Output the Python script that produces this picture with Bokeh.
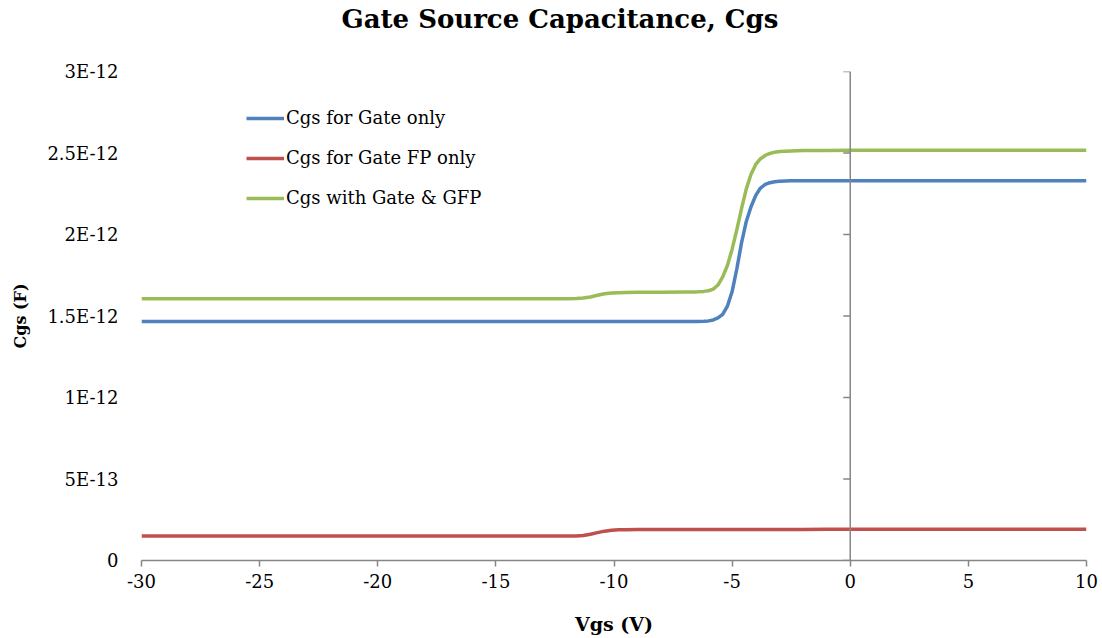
from bokeh.plotting import figure
from bokeh.models import FixedTicker, CustomJSTickFormatter, Span, Legend, LegendItem, ColumnDataSource, Title
from bokeh.embed import file_html
from bokeh.resources import INLINE
import math

# ---------------- data (capacitance in pF, converted to F below) ----------------
vgs = [-30, -20, -12, -11.6, -11.3, -11.0, -10.7, -10.4, -10.1, -9.8, -9.5, -9, -8, -7, -6.5, -6.2,
       -6.0, -5.8, -5.6, -5.4, -5.2, -5.0, -4.8, -4.6, -4.4, -4.2, -4.0, -3.8, -3.6, -3.4, -3.2, -3.0,
       -2.5, -2, -1, 0, 5, 10]
cgs_gate_pf = [1.467, 1.467, 1.467, 1.467, 1.467, 1.467, 1.467, 1.467, 1.467, 1.467, 1.467, 1.467, 1.467, 1.467, 1.467, 1.468,
               1.470, 1.476, 1.488, 1.510, 1.560, 1.650, 1.790, 1.950, 2.080, 2.170, 2.240, 2.285, 2.307, 2.318, 2.324, 2.327,
               2.329, 2.330, 2.330, 2.330, 2.330, 2.330]
cgs_gfp_pf = [0.150, 0.150, 0.150, 0.151, 0.154, 0.161, 0.171, 0.180, 0.185, 0.188, 0.189, 0.190, 0.190, 0.190, 0.190, 0.190,
              0.190, 0.190, 0.190, 0.190, 0.190, 0.190, 0.190, 0.190, 0.190, 0.190, 0.190, 0.190, 0.190, 0.190, 0.190, 0.190,
              0.190, 0.190, 0.191, 0.191, 0.191, 0.191]
cgs_both_pf = [1.606, 1.606, 1.606, 1.607, 1.610, 1.617, 1.627, 1.636, 1.641, 1.643, 1.644, 1.645, 1.646, 1.647, 1.648, 1.651,
               1.655, 1.665, 1.690, 1.740, 1.810, 1.910, 2.030, 2.160, 2.280, 2.370, 2.430, 2.465, 2.485, 2.497, 2.505, 2.509,
               2.513, 2.515, 2.516, 2.517, 2.517, 2.517]

series_names = ["Cgs for Gate only", "Cgs for Gate FP only", "Cgs with Gate & GFP"]
series_colors = ["#4F81BD", "#C0504D", "#9BBB59"]

x_tick_values = [-30, -25, -20, -15, -10, -5, 0, 5, 10]
x_tick_labels = ["-30", "-25", "-20", "-15", "-10", "-5", "0", "5", "10"]
y_tick_values = [0, 5e-13, 1e-12, 1.5e-12, 2e-12, 2.5e-12, 3e-12]
y_tick_labels = ["0", "5E-13", "1E-12", "1.5E-12", "2E-12", "2.5E-12", "3E-12"]

title_text = "Gate Source Capacitance, Cgs"
x_label = "Vgs (V)"
y_label = "Cgs (F)"

SERIF = "DejaVu Serif"
GRAY = "#868686"

LOOKUP = """
    for (let i = 0; i < vals.length; i++) {
        if (Math.abs(vals[i] - tick) <= 1e-9 * Math.max(Math.abs(vals[i]), 1e-15)) { return labs[i]; }
    }
    return "";
"""

p = figure(width=1098, height=638, output_backend="svg", toolbar_location=None,
           x_range=(-30, 10), y_range=(0, 3e-12), title=None,
           min_border_left=141, min_border_right=12, min_border_top=71, min_border_bottom=78)
p.outline_line_color = None
p.xgrid.visible = False
p.ygrid.visible = False
p.background_fill_color = "white"

# spacer (nearest the plot) then the real title above it
p.add_layout(Title(text=" ", text_font=SERIF, text_font_size="31px", standoff=0), "above")
p.add_layout(Title(text=title_text, text_font=SERIF, text_font_size="26px", text_font_style="bold",
                   text_color="black", align="left", offset=200, standoff=0), "above")

# x axis
xa = p.xaxis[0]
xa.ticker = FixedTicker(ticks=x_tick_values)
xa.formatter = CustomJSTickFormatter(args=dict(vals=x_tick_values, labs=x_tick_labels), code=LOOKUP)
xa.axis_line_color = GRAY
xa.axis_line_width = 1.5
xa.major_tick_line_color = GRAY
xa.major_tick_line_width = 1.5
xa.major_tick_out = 6
xa.major_tick_in = 0
xa.minor_tick_line_color = None
xa.major_label_text_font = SERIF
xa.major_label_text_font_size = "18px"
xa.major_label_text_color = "black"
xa.major_label_standoff = 7
xa.axis_label = x_label
xa.axis_label_text_font = SERIF
xa.axis_label_text_font_size = "19px"
xa.axis_label_text_font_style = "bold"
xa.axis_label_text_color = "black"
xa.axis_label_standoff = 22

# y axis: labels at left, line at x = 0
ya = p.yaxis[0]
ya.ticker = FixedTicker(ticks=y_tick_values)
ya.formatter = CustomJSTickFormatter(args=dict(vals=y_tick_values, labs=y_tick_labels), code=LOOKUP)
ya.axis_line_color = None
ya.major_tick_line_color = None
ya.minor_tick_line_color = None
ya.major_tick_out = 0
ya.major_tick_in = 0
ya.major_label_standoff = 23
ya.major_label_text_font = SERIF
ya.major_label_text_font_size = "18px"
ya.major_label_text_color = "black"
ya.axis_label = y_label
ya.axis_label_text_font = SERIF
ya.axis_label_text_font_size = "16px"
ya.axis_label_text_font_style = "bold"
ya.axis_label_text_color = "black"
ya.axis_label_standoff = 14

# vertical axis line crossing at Vgs = 0 with its tick marks
p.add_layout(Span(location=0, dimension="height", line_color=GRAY, line_width=1.5))
p.ray(x=[0] * len(y_tick_values), y=y_tick_values, length=7, length_units="screen",
      angle=math.pi, line_color=GRAY, line_width=1.5)

renderers = []
for vals, name, color in zip([cgs_gate_pf, cgs_gfp_pf, cgs_both_pf], series_names, series_colors):
    src = ColumnDataSource(dict(x=vgs, y=[v * 1e-12 for v in vals]))
    r = p.line("x", "y", source=src, line_color=color, line_width=3.5, line_join="round")
    renderers.append(r)

legend = Legend(items=[LegendItem(label=n, renderers=[r]) for n, r in zip(series_names, renderers)],
                location=(105, 352))
legend.border_line_color = None
legend.background_fill_alpha = 0
legend.padding = 0
legend.margin = 0
legend.spacing = 19
legend.glyph_width = 38
legend.glyph_height = 20
legend.label_height = 20
legend.label_standoff = 2
legend.label_text_font = SERIF
legend.label_text_font_size = "18px"
legend.label_text_color = "black"
p.add_layout(legend)

open("out.html", "w").write(file_html(p, INLINE))
